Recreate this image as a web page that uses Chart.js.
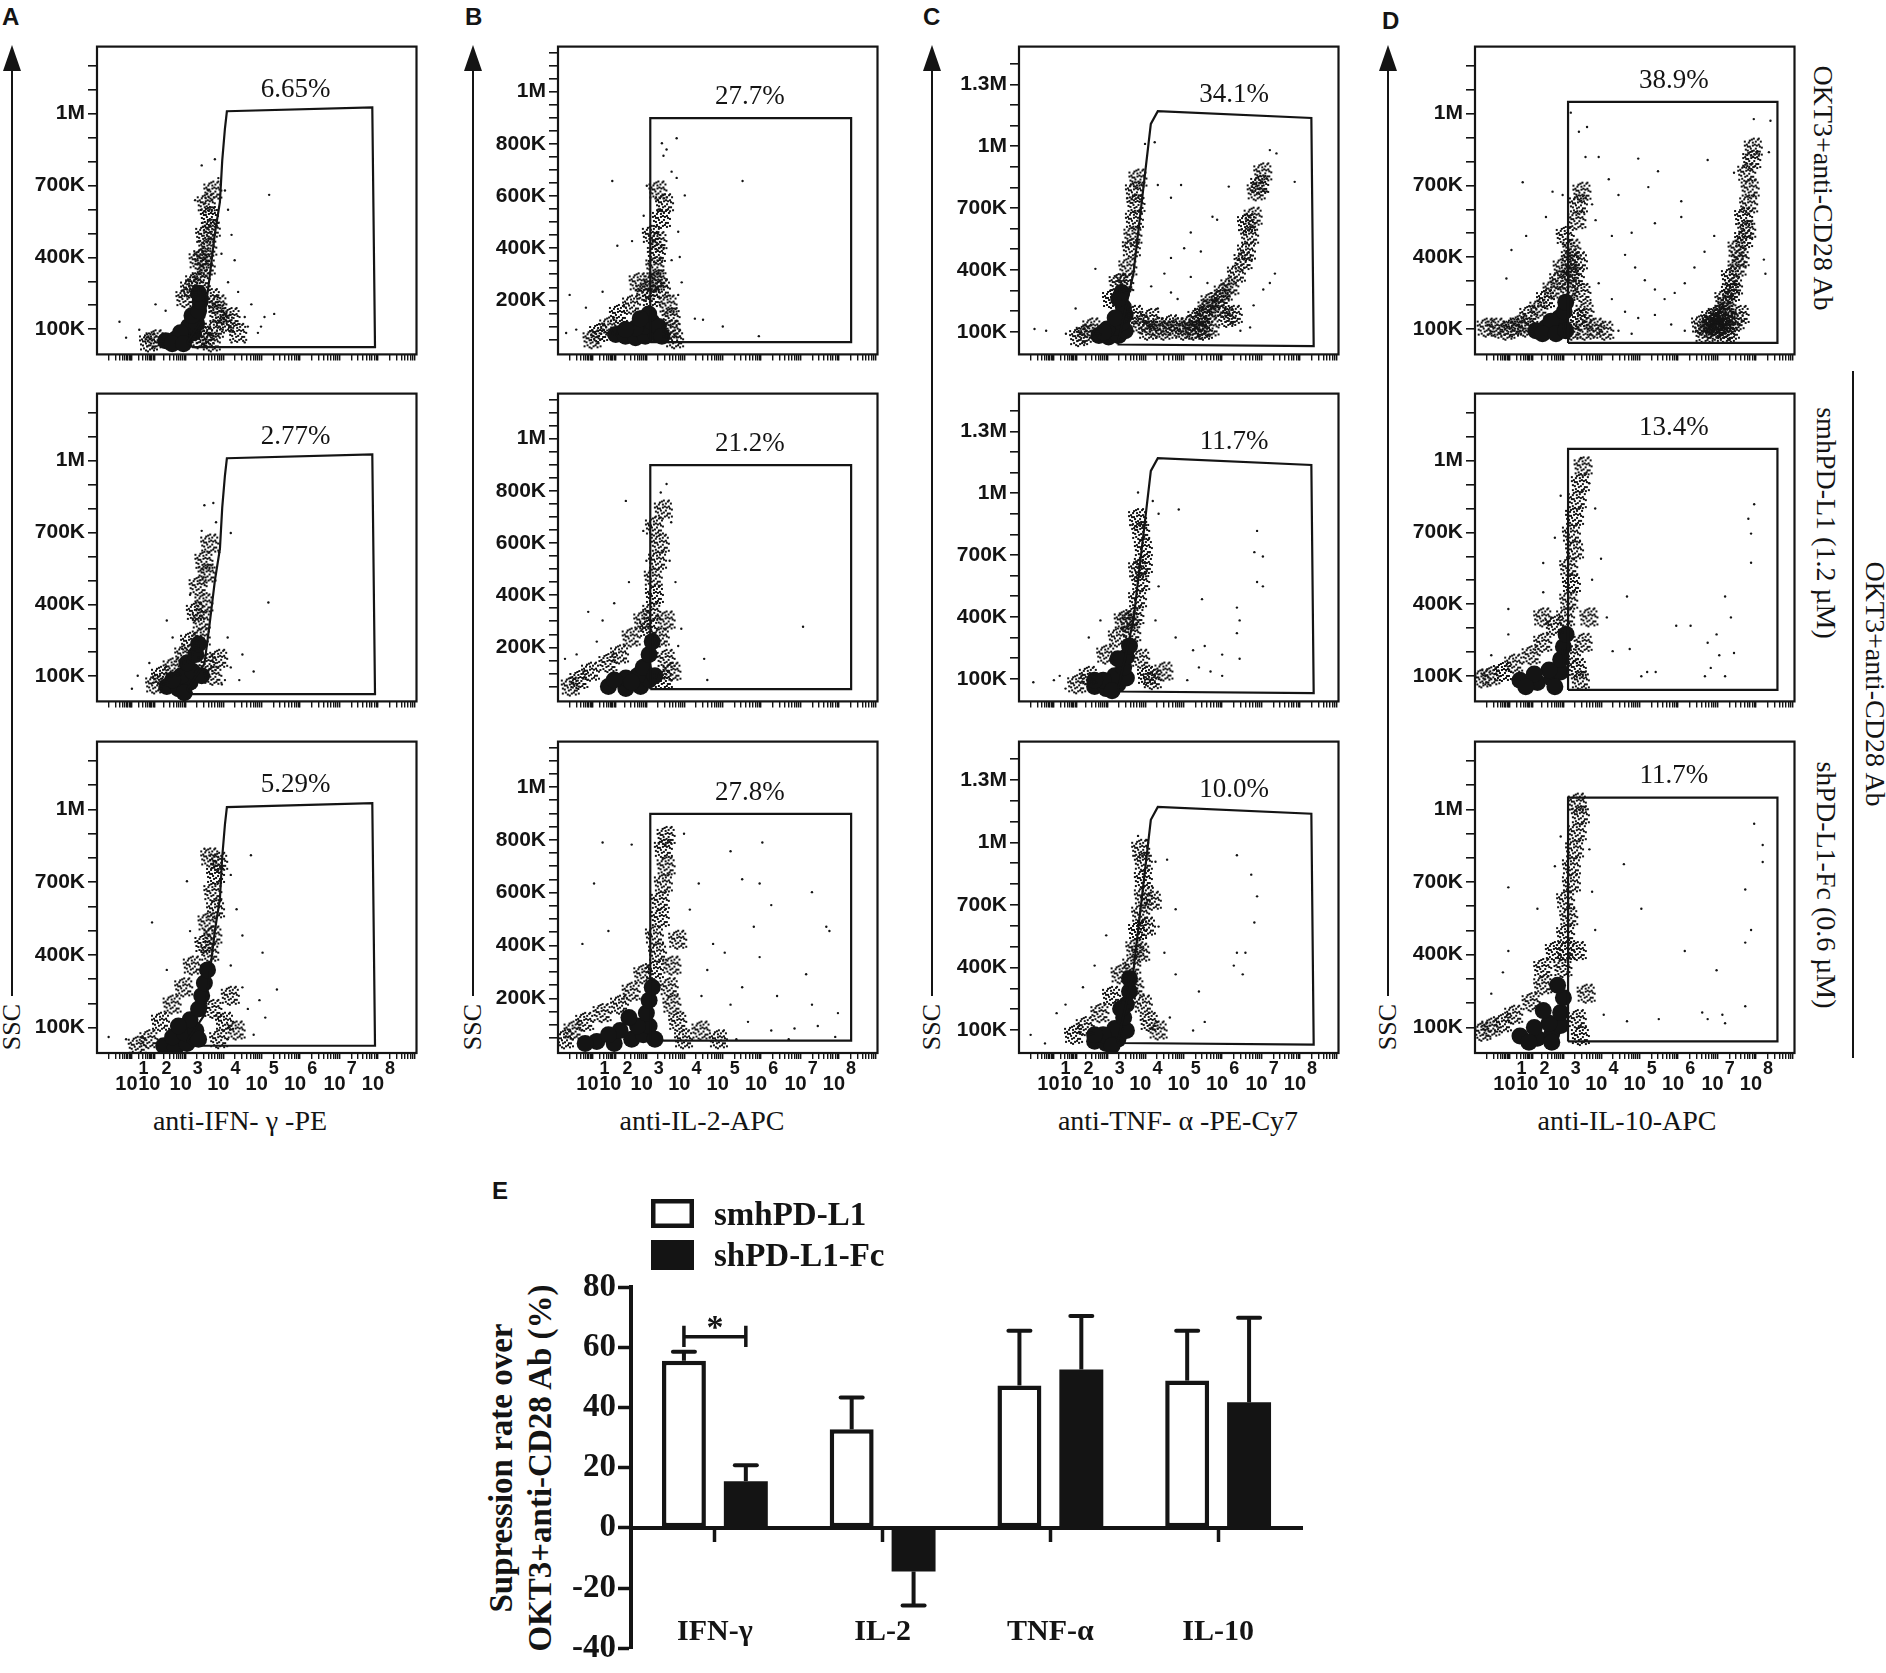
<!DOCTYPE html>
<html>
<head>
<meta charset="utf-8">
<script src="https://cdn.jsdelivr.net/npm/chart.js@4.4.1/dist/chart.umd.min.js"></script>
<style>
  body { margin: 0; background: #fff; width: 1886px; height: 1673px; position: relative; overflow: hidden; color: #141414; }
  canvas { position: absolute; }
  svg { position: absolute; left: 0; top: 0; }
  .t { position: absolute; white-space: nowrap; transform: translate(-50%, -50%); font-family: 'Liberation Serif', serif; line-height: 1; }
  .up { transform: translate(-50%, -50%) rotate(-90deg); }
  .down { transform: translate(-50%, -50%) rotate(90deg); }
  .letter { position: absolute; font: bold 24px 'Liberation Sans', Arial, sans-serif; line-height: 1; }
</style>
</head>
<body>
<div class="letter" style="left:2px;top:5px">A</div>
<div class="letter" style="left:465px;top:5px">B</div>
<div class="letter" style="left:923px;top:5px">C</div>
<div class="letter" style="left:1382px;top:9px">D</div>
<div class="letter" style="left:492px;top:1179px">E</div>

<div class="t" style="left:240px;top:1121px;font-size:28px">anti-IFN- γ -PE</div>
<div class="t" style="left:702px;top:1121px;font-size:28px">anti-IL-2-APC</div>
<div class="t" style="left:1178px;top:1121px;font-size:28px">anti-TNF- α -PE-Cy7</div>
<div class="t" style="left:1627px;top:1121px;font-size:28px">anti-IL-10-APC</div>

<div class="t up" style="left:12px;top:1027px;font-size:26px">SSC</div>
<div class="t up" style="left:473px;top:1027px;font-size:26px">SSC</div>
<div class="t up" style="left:932px;top:1027px;font-size:26px">SSC</div>
<div class="t up" style="left:1388px;top:1027px;font-size:26px">SSC</div>

<div class="t down" style="left:1823px;top:188px;font-size:28px">OKT3+anti-CD28 Ab</div>
<div class="t down" style="left:1826px;top:523px;font-size:28px">smhPD-L1 (1.2 µM)</div>
<div class="t down" style="left:1826px;top:885px;font-size:28px">shPD-L1-Fc (0.6 µM)</div>
<div class="t down" style="left:1875px;top:684px;font-size:28px">OKT3+anti-CD28 Ab</div>

<div class="t up" style="left:501px;top:1468px;font-size:33px;font-weight:bold">Supression rate over</div>
<div class="t up" style="left:540px;top:1468px;font-size:33px;font-weight:bold">OKT3+anti-CD28 Ab (%)</div>

<svg width="1886" height="1673">
  <g stroke="#141414" stroke-width="2" fill="#141414">
    <line x1="12" y1="60" x2="12" y2="996"/><polygon points="12,45 3,71 21,71" stroke="none"/>
    <line x1="473" y1="60" x2="473" y2="996"/><polygon points="473,45 464,71 482,71" stroke="none"/>
    <line x1="932" y1="60" x2="932" y2="996"/><polygon points="932,45 923,71 941,71" stroke="none"/>
    <line x1="1388" y1="60" x2="1388" y2="996"/><polygon points="1388,45 1379,71 1397,71" stroke="none"/>
    <line x1="1853" y1="371" x2="1853" y2="1058"/>
  </g>
</svg>

<script>
// ---------- flow panels: x in display decades, y in K events (SSC) ----------
const xDecades = [1, 2, 3, 4, 5, 6, 7, 8];
const xDecadePos = [0.30, 0.89, 1.48, 2.29, 3.26, 4.25, 5.24, 6.26, 7.25, 8.24];

const yLabelsA = [100, 400, 700, 1000];
const yLabelsB = [200, 400, 600, 800, 1000];
const yLabelsC = [100, 400, 700, 1000, 1300];
const yLabelsD = [100, 400, 700, 1000];

const gateA = [[2.32,45],[2.77,152],[2.89,299],[3.04,499],[3.17,632],[3.23,805],[3.30,939],[3.35,1010],[7.10,1026],[7.17,25],[2.47,25]];
const gateB = [[2.38,40],[2.38,898],[7.56,898],[7.56,40]];
const gateC = [[2.54,38],[2.95,382],[3.40,1108],[3.58,1170],[7.54,1137],[7.60,30]];
const gateD = [[2.40,42],[2.40,1049],[7.80,1049],[7.80,42]];

const pctA = ['6.65%', '2.77%', '5.29%'];
const pctB = ['27.7%', '21.2%', '27.8%'];
const pctC = ['34.1%', '11.7%', '10.0%'];
const pctD = ['38.9%', '13.4%', '11.7%'];

const a1Core = [[1.77,52],[2.02,58],[2.28,65],[2.49,85],[2.36,111],[2.57,124],[2.45,157],[2.62,177],[2.66,217],[2.62,250],[2.15,85],[1.94,39],[2.23,39]];
const a1Dense = [[2.70,309],[2.83,362],[2.74,401],[2.87,441],[2.79,494],[2.96,520],[2.91,573],[2.83,626],[3.00,679],[2.62,388],[2.53,296],[2.96,230],[3.13,164],[3.04,98],[3.30,124],[3.47,151],[3.64,85],[1.51,58],[1.34,45],[2.79,72],[2.96,45],[2.62,58],[3.13,204],[2.28,230],[2.40,270]];
const a1Sparse = [[3.04,810],[3.13,731],[3.30,679],[3.38,599],[4.44,661],[2.79,626],[2.53,639],[3.47,494],[3.55,388],[3.38,296],[3.98,204],[4.32,151],[4.57,164],[4.15,85],[3.89,111],[3.81,45],[0.75,65],[0.58,131],[1.09,98],[1.51,204],[1.77,177],[1.26,58],[2.70,784],[3.21,415],[3.64,256],[3.81,151],[3.47,45],[4.23,111],[2.87,679],[2.62,468]];

const a2Core = [[1.80,57],[2.10,48],[2.40,75],[2.17,102],[2.47,120],[2.32,155],[2.55,191],[2.62,235],[1.95,84],[2.70,102],[2.25,31]];
const a2Dense = [[2.70,333],[2.77,404],[2.62,476],[2.85,529],[2.77,582],[2.92,654],[2.70,262],[2.40,244],[2.25,191],[1.95,137],[1.65,102],[1.50,66],[2.85,155],[3.00,102],[3.15,173],[2.55,369]];
const a2Sparse = [[2.77,814],[3.00,823],[3.07,743],[3.15,618],[3.45,698],[4.42,408],[3.37,262],[3.75,191],[4.04,120],[3.30,84],[1.05,102],[0.90,48],[1.35,155],[1.95,262],[1.80,333],[2.40,440],[3.45,137],[2.70,707],[3.22,66],[3.67,84]];

const a3Core = [[1.72,25],[2.02,16],[2.32,34],[1.95,61],[2.25,79],[2.55,88],[2.40,132],[2.62,177],[2.70,231],[2.77,284],[2.85,338],[2.62,52],[2.10,106]];
const a3Dense = [[2.92,409],[3.00,480],[2.85,534],[3.07,588],[3.00,659],[3.07,730],[2.92,802],[3.15,784],[2.77,445],[2.47,356],[2.25,266],[1.95,195],[1.65,124],[1.35,52],[1.05,25],[3.00,177],[3.30,124],[3.45,231],[3.15,52],[3.60,88]];
const a3Sparse = [[3.97,811],[3.45,730],[3.60,588],[3.75,480],[4.27,409],[4.64,257],[4.34,141],[3.89,177],[4.04,70],[2.32,704],[1.42,534],[1.80,338],[2.40,498],[0.30,61],[0.75,52],[3.45,356],[3.75,266],[2.77,838],[3.37,52],[4.19,213]];

const b1Core = [[1.49,69],[1.74,63],[2.00,57],[2.25,63],[2.51,75],[2.25,100],[2.00,94],[2.42,118],[2.59,100],[2.68,63],[1.74,88],[2.34,148],[2.12,130]];
const b1Dense = [[2.42,209],[2.46,269],[2.51,330],[2.55,378],[2.59,427],[2.42,451],[2.68,512],[2.76,572],[2.59,621],[2.68,245],[2.85,184],[2.93,136],[1.91,184],[1.57,148],[1.32,100],[1.06,75],[0.89,51],[2.93,88],[3.02,51],[2.25,233],[2.08,269],[2.59,281]];
const b1Sparse = [[2.68,802],[2.80,778],[3.06,821],[2.72,754],[2.93,693],[3.06,669],[3.27,602],[3.10,463],[2.59,548],[2.29,639],[2.21,524],[1.91,427],[1.53,409],[1.40,657],[4.76,657],[3.53,130],[3.74,126],[4.25,100],[5.18,63],[0.30,221],[0.21,75],[0.47,88],[0.72,172],[1.15,233],[3.14,366],[3.10,221],[3.19,269],[2.93,354]];

const b2Core = [[1.30,50],[1.75,42],[2.13,50],[2.35,75],[2.05,91],[1.75,83],[2.20,124],[2.35,173],[2.43,222],[1.90,66],[1.45,75],[2.50,91]];
const b2Dense = [[2.35,271],[2.43,336],[2.50,401],[2.47,467],[2.58,532],[2.65,597],[2.50,663],[2.73,728],[2.20,303],[1.90,238],[1.60,173],[1.30,140],[0.85,107],[0.55,75],[0.33,50],[2.80,156],[2.95,107],[2.73,75],[2.65,238],[2.80,303]];
const b2Sparse = [[2.80,826],[2.65,793],[2.92,679],[2.20,646],[2.28,532],[1.83,450],[1.45,369],[1.15,303],[0.78,336],[1.75,761],[3.18,271],[3.77,156],[3.85,75],[6.32,279],[0.18,156],[0.48,173],[1.00,222],[3.03,450],[2.88,532],[3.10,205]];

const b3Core = [[1.00,37],[1.45,29],[1.90,45],[2.20,62],[2.35,95],[2.05,95],[1.60,78],[2.28,144],[2.35,193],[2.43,242],[1.30,62],[2.50,45],[0.70,29],[1.83,127]];
const b3Dense = [[2.50,307],[2.58,373],[2.50,438],[2.65,504],[2.65,569],[2.73,635],[2.80,700],[2.73,766],[2.80,815],[2.20,291],[1.90,225],[1.60,176],[1.15,144],[0.70,111],[0.40,78],[0.18,45],[2.95,176],[3.10,111],[3.25,45],[2.88,242],[2.95,324],[3.10,422],[3.70,78],[4.15,45]];
const b3Sparse = [[1.15,790],[1.90,782],[3.25,823],[5.27,790],[0.93,635],[0.63,406],[1.30,455],[4.45,757],[4.75,651],[5.20,635],[6.55,602],[6.92,471],[7.00,455],[5.50,553],[5.05,471],[4.30,373],[3.85,307],[4.75,242],[5.65,209],[6.55,176],[7.22,144],[6.70,95],[6.10,86],[5.50,78],[4.90,111],[4.45,176],[5.20,356],[3.70,209],[6.40,291],[7.15,54],[5.95,45],[4.60,45],[3.40,536],[3.63,635],[4.00,406]];

const c1Core = [[2.06,82],[2.31,74],[2.57,82],[2.74,105],[2.48,121],[2.27,113],[2.65,144],[2.74,182],[2.69,220],[2.48,167],[2.57,259],[2.65,290],[2.18,98]];
const c1Dense = [[2.74,336],[2.82,412],[2.91,505],[2.95,566],[2.99,643],[3.03,720],[2.99,781],[3.08,843],[2.57,336],[2.40,259],[1.89,121],[1.72,90],[1.55,74],[2.99,182],[3.16,136],[3.33,105],[3.41,167],[3.58,121],[3.75,105],[3.92,136],[4.09,121],[4.26,105],[4.43,136],[4.60,167],[4.77,182],[4.86,213],[4.94,243],[5.11,213],[5.20,259],[5.28,290],[5.37,167],[5.54,182],[5.45,320],[5.62,382],[5.79,443],[5.88,489],[5.96,566],[5.88,627],[6.05,658],[6.13,781],[6.30,873],[6.22,812],[4.69,121],[4.94,121],[4.52,105],[4.77,105]];
const c1Sparse = [[3.25,1011],[3.50,1019],[3.58,812],[3.92,750],[4.18,812],[4.99,658],[5.11,643],[4.43,581],[4.26,505],[3.92,458],[3.41,320],[3.75,382],[3.92,290],[4.09,259],[3.58,213],[1.46,213],[1.97,405],[1.21,90],[0.70,105],[0.40,113],[2.91,305],[6.47,981],[6.64,965],[7.11,827],[5.41,804],[6.39,781],[6.60,382],[6.47,336],[5.96,121],[5.71,105],[6.05,228],[6.30,305],[4.69,489],[4.86,336],[4.43,366]];

const c2Core = [[1.95,62],[2.25,52],[2.55,73],[2.77,104],[2.47,114],[2.17,93],[2.70,155],[2.77,207],[2.85,259],[2.55,197],[2.40,42],[1.95,93]];
const c2Dense = [[2.92,321],[3.00,404],[3.07,486],[3.15,569],[3.22,652],[3.22,734],[3.15,817],[3.07,879],[2.55,300],[2.25,217],[1.80,114],[1.50,73],[3.15,197],[3.30,114],[3.45,93],[3.75,135],[2.85,383],[3.07,631],[2.70,383]];
const c2Sparse = [[3.07,1003],[3.45,962],[3.60,900],[4.12,921],[3.37,714],[3.60,548],[3.52,383],[4.04,300],[4.49,238],[4.79,259],[4.94,135],[5.24,114],[4.64,155],[5.62,321],[5.69,383],[5.62,445],[6.14,569],[6.29,548],[6.07,714],[6.14,817],[6.29,693],[4.72,486],[5.69,197],[5.24,217],[4.34,93],[1.05,114],[0.37,83],[1.20,52],[0.90,93],[1.80,300],[2.10,383]];

const c3Core = [[1.95,46],[2.25,36],[2.55,56],[2.77,98],[2.47,108],[2.17,77],[2.70,160],[2.77,222],[2.85,285],[2.62,202],[2.40,25],[1.95,77],[2.85,347]];
const c3Dense = [[2.92,409],[3.00,492],[3.07,575],[3.15,658],[3.22,741],[3.22,824],[3.22,907],[3.15,969],[2.62,367],[2.40,264],[2.10,181],[1.72,119],[1.42,77],[3.22,222],[3.37,139],[3.60,98],[3.00,305],[3.15,471],[3.30,596],[3.45,720]];
const c3Sparse = [[3.07,1031],[3.30,1010],[3.52,907],[3.82,917],[3.45,782],[3.60,596],[3.75,471],[4.04,367],[4.64,285],[3.89,160],[4.49,98],[4.79,139],[5.62,938],[5.99,845],[6.14,741],[5.62,471],[5.84,471],[5.54,409],[5.77,367],[6.07,616],[0.97,181],[0.30,77],[0.67,36],[1.20,222],[1.65,305],[1.95,409],[2.25,554],[4.04,679]];

const d1Core = [[1.57,93],[1.83,106],[2.09,113],[2.26,106],[2.17,146],[1.96,133],[2.30,172],[2.34,212],[1.74,80],[2.09,80],[2.34,93]];
const d1Dense = [[2.43,265],[2.47,331],[2.47,396],[2.51,436],[2.68,383],[2.60,317],[2.77,251],[2.85,172],[2.68,146],[2.51,93],[2.85,93],[3.11,106],[3.36,93],[1.32,106],[1.15,119],[0.98,106],[0.81,93],[0.55,106],[0.30,106],[1.40,159],[1.66,185],[1.83,225],[2.00,265],[2.17,304],[2.26,357],[2.34,489],[2.64,555],[2.68,621],[2.77,674],[5.83,119],[6.00,106],[6.17,113],[6.34,133],[6.26,159],[6.43,172],[6.51,199],[6.43,225],[6.60,251],[6.68,278],[6.60,317],[6.77,357],[6.85,396],[6.77,436],[6.94,476],[7.02,515],[6.94,568],[7.07,621],[7.11,687],[7.02,753],[7.15,806],[7.19,858],[6.09,146],[6.21,93],[6.60,93],[6.72,133],[6.85,159],[5.92,80],[6.47,80],[6.10,120],[6.30,100],[6.50,120],[6.40,150],[6.20,130]];
const d1Sparse = [[2.47,1004],[2.68,924],[2.89,944],[2.85,819],[3.19,819],[3.45,726],[3.70,660],[4.21,812],[4.72,759],[4.47,693],[5.32,634],[6.00,806],[6.68,753],[7.19,977],[7.62,970],[7.58,839],[7.45,390],[7.49,331],[3.02,621],[3.11,555],[3.53,489],[3.87,410],[4.13,357],[4.38,304],[4.64,265],[4.89,225],[5.15,251],[5.41,291],[5.66,357],[5.92,423],[6.17,489],[4.64,159],[4.21,146],[3.87,172],[3.53,225],[3.19,291],[5.06,119],[5.41,93],[3.70,93],[4.04,80],[1.23,713],[0.94,430],[0.81,311],[1.32,489],[1.83,568],[2.00,674],[2.26,660],[5.32,568],[4.64,542],[4.04,502]];

const d2Core = [[1.16,82],[1.61,73],[1.98,90],[2.21,117],[1.91,125],[1.53,108],[2.21,169],[2.28,222],[2.35,274],[1.31,55],[2.06,55]];
const d2Dense = [[2.35,345],[2.43,415],[2.50,485],[2.43,555],[2.58,625],[2.50,695],[2.58,765],[2.65,835],[2.73,906],[2.80,976],[2.06,310],[1.76,239],[1.46,187],[1.01,152],[0.72,117],[0.42,99],[0.19,90],[2.65,134],[2.73,82],[1.76,345],[2.50,187],[2.80,239],[2.95,345]];
const d2Sparse = [[2.73,1011],[2.95,905],[3.10,800],[3.25,590],[3.02,502],[2.21,853],[2.06,678],[1.76,572],[0.86,380],[1.76,450],[3.92,432],[3.40,345],[3.55,204],[3.99,213],[4.44,117],[5.19,310],[5.56,310],[6.45,432],[6.60,345],[6.23,274],[6.00,239],[6.30,187],[6.08,134],[6.45,99],[5.93,99],[7.12,573],[7.20,818],[7.05,757],[7.12,695],[6.68,196],[4.29,99],[4.66,117],[0.42,187],[0.86,274]];

const d3Core = [[1.16,64],[1.61,55],[1.98,73],[2.21,108],[1.91,117],[1.53,99],[2.21,161],[2.28,222],[2.13,274],[1.39,38],[1.98,38],[1.76,169]];
const d3Dense = [[2.28,345],[2.35,415],[2.35,485],[2.43,555],[2.35,625],[2.50,695],[2.50,765],[2.58,835],[2.65,906],[2.73,976],[2.65,1028],[1.76,274],[1.46,204],[1.01,152],[0.72,117],[0.42,99],[0.19,82],[2.65,134],[2.73,64],[1.76,345],[2.06,415],[2.88,239],[2.65,415]];
const d3Sparse = [[2.80,1046],[2.95,835],[3.02,660],[3.10,502],[2.21,888],[2.06,765],[1.61,590],[0.86,415],[0.72,327],[3.84,774],[4.29,590],[3.32,152],[3.92,125],[4.74,134],[5.86,161],[6.00,134],[6.38,152],[6.45,117],[6.97,187],[7.12,502],[6.97,450],[7.42,853],[7.42,783],[7.20,941],[6.97,669],[6.23,336],[5.41,415],[0.42,239],[0.86,678]];

// ---------- bar chart E ----------
const cytokines = ['IFN-γ', 'IL-2', 'TNF-α', 'IL-10'];
const seriesNames = ['smhPD-L1', 'shPD-L1-Fc'];
const smhMean = [55.5, 32.7, 47.3, 48.9];
const smhSem = [3.0, 10.6, 18.2, 16.6];
const shMean = [15.5, -14.5, 52.6, 41.7];
const shSem = [5.3, 11.3, 17.8, 28.1];

// ---------- layout / style ----------
const ink = '#141414';
const boxLeft = [97, 558, 1019, 1475];
const rowTop = [35, 382, 730];
const BOX_W = 324, BOX_H = 323, Y_AXIS_W = 80;

// offsets (px) of the specks in one "dense" marker
const speckOffsets = [[-7,-3],[-4,-7],[-1,-2],[2,-6],[5,-3],[-6,3],[-2,4],[2,1],[6,4],[1,7],[-4,-1],[4,-8],[-8,7],[8,0],[0,-9],[-3,8],[5,8],[-9,-6],[3,-2],[-1,-5],[-5,6],[7,-6],
  [-3,1],[0,3],[4,4],[-6,-1],[3,6],[-2,-8],[6,-1],[-8,2],[1,-3],[-5,-5],[8,7],[-1,9],[5,-9],[-9,-2]];

function speckMarker(size) {
  const c = document.createElement('canvas');
  c.width = c.height = size;
  const g = c.getContext('2d');
  g.fillStyle = ink;
  speckOffsets.forEach(([dx, dy]) => g.fillRect(size / 2 + dx - 1, size / 2 + dy - 1, 2, 2));
  return c;
}
const speck = speckMarker(22);

function range(a, b, s) {
  const out = [];
  for (let v = a; v <= b + 1e-9; v += s) out.push(Math.round(v * 100) / 100);
  return out;
}

// tick marks between the decade positions
const xMarks = [];
for (let n = 0; n < xDecadePos.length - 1; n++) {
  for (let k = 1; k <= 9; k++) {
    xMarks.push(xDecadePos[n] + Math.log10(k) * (xDecadePos[n + 1] - xDecadePos[n]));
  }
}

const columns = [
  { gate: gateA, yMin: -5, yMax: 1280, marks: range(100, 1200, 100), labels: yLabelsA, pct: pctA, pctAt: [5.12, 1100],
    clouds: [[a1Core, a1Dense, a1Sparse], [a2Core, a2Dense, a2Sparse], [a3Core, a3Dense, a3Sparse]] },
  { gate: gateB, yMin: -7, yMax: 1172, marks: range(50, 1150, 50), labels: yLabelsB, pct: pctB, pctAt: [4.95, 978],
    clouds: [[b1Core, b1Dense, b1Sparse], [b2Core, b2Dense, b2Sparse], [b3Core, b3Dense, b3Sparse]] },
  { gate: gateC, yMin: -10, yMax: 1483, marks: range(100, 1400, 100), labels: yLabelsC, pct: pctC, pctAt: [5.55, 1250],
    clouds: [[c1Core, c1Dense, c1Sparse], [c2Core, c2Dense, c2Sparse], [c3Core, c3Dense, c3Sparse]] },
  { gate: gateD, yMin: -6, yMax: 1280, marks: range(100, 1200, 100), labels: yLabelsD, pct: pctD, pctAt: [5.13, 1138],
    clouds: [[d1Core, d1Dense, d1Sparse], [d2Core, d2Dense, d2Sparse], [d3Core, d3Dense, d3Sparse]] }
];

function makeCanvas(left, top, w, h) {
  const c = document.createElement('canvas');
  c.width = w; c.height = h;
  c.style.left = left + 'px'; c.style.top = top + 'px';
  c.style.width = w + 'px'; c.style.height = h + 'px';
  document.body.appendChild(c);
  return c;
}

const toXY = pts => pts.map(p => ({ x: p[0], y: p[1] }));
const kLabel = v => v >= 1000 ? (v / 1000) + 'M' : v + 'K';

// plot frame
const frame = {
  id: 'frame',
  afterDraw(chart) {
    const { ctx, chartArea: a } = chart;
    ctx.save();
    ctx.strokeStyle = ink;
    ctx.lineWidth = 2.2;
    ctx.strokeRect(a.left, a.top, a.right - a.left, a.bottom - a.top);
    ctx.restore();
  }
};

// gate percentage
const pctLabel = {
  id: 'pctLabel',
  afterDraw(chart, args, opts) {
    const { ctx, scales } = chart;
    ctx.save();
    ctx.fillStyle = ink;
    ctx.font = '27px "Liberation Serif"';
    ctx.textAlign = 'center';
    ctx.textBaseline = 'middle';
    ctx.fillText(opts.text, scales.x.getPixelForValue(opts.at[0]), scales.y.getPixelForValue(opts.at[1]));
    ctx.restore();
  }
};

// 10^n labels under the bottom row
const decadeLabels = {
  id: 'decadeLabels',
  afterDraw(chart, args, opts) {
    if (!opts.show) return;
    const { ctx, scales, chartArea } = chart;
    const base = chartArea.bottom;
    ctx.save();
    ctx.fillStyle = ink;
    ctx.textBaseline = 'top';
    xDecades.forEach(e => {
      const px = scales.x.getPixelForValue(xDecadePos[e]);
      ctx.font = 'bold 20px "Liberation Sans"';
      ctx.textAlign = 'right';
      ctx.fillText('10', px + 6, base + 21);
      ctx.font = 'bold 18px "Liberation Sans"';
      ctx.textAlign = 'left';
      ctx.fillText(String(e), px + 7, base + 7);
    });
    ctx.restore();
  }
};

function dots(pts, r, style) {
  return { data: toXY(pts), pointRadius: r, pointStyle: style || 'circle', pointBackgroundColor: ink,
           pointBorderWidth: 0, showLine: false, clip: 0 };
}

function flowPanel(ci, ri) {
  const col = columns[ci];
  const [core, dense, sparse] = col.clouds[ri];
  const xh = ri === 2 ? 50 : 12;
  const cv = makeCanvas(boxLeft[ci] - Y_AXIS_W, rowTop[ri] - 4, Y_AXIS_W + BOX_W + 4, BOX_H + 4 + xh);
  new Chart(cv, {
    type: 'scatter',
    data: {
      datasets: [
        { data: toXY(col.gate.concat([col.gate[0]])), showLine: true, borderColor: ink, borderWidth: 2.2,
          pointRadius: 0, fill: false, tension: 0, clip: 0 },
        dots(sparse, 1.2),
        dots(dense, 3, speck),
        dots(core, 8.5)
      ]
    },
    options: {
      animation: false, responsive: false, events: [],
      layout: { padding: { top: 4, right: 4, left: 0, bottom: 0 } },
      plugins: {
        legend: { display: false }, tooltip: { enabled: false },
        pctLabel: { text: col.pct[ri], at: col.pctAt },
        decadeLabels: { show: ri === 2 }
      },
      scales: {
        x: {
          type: 'linear', min: 0, max: 8.24,
          afterBuildTicks: s => { s.ticks = xMarks.map(v => ({ value: v })); },
          afterFit: s => { s.height = xh; },
          grid: { drawOnChartArea: false, tickLength: 6, color: ink, lineWidth: 1.4 },
          border: { display: false },
          ticks: { display: false }
        },
        y: {
          type: 'linear', min: col.yMin, max: col.yMax,
          afterBuildTicks: s => { s.ticks = col.marks.map(v => ({ value: v })); },
          afterFit: s => { s.width = Y_AXIS_W; },
          grid: { drawOnChartArea: false, tickLength: 9, color: ink, lineWidth: 1.6 },
          border: { display: false },
          ticks: {
            autoSkip: false, padding: 3, color: ink,
            font: { family: 'Liberation Sans', weight: 'bold', size: 21 },
            callback: v => col.labels.includes(v) ? kLabel(v) : ''
          }
        }
      }
    },
    plugins: [frame, pctLabel, decadeLabels]
  });
}

for (let ci = 0; ci < 4; ci++) for (let ri = 0; ri < 3; ri++) flowPanel(ci, ri);

// ---------- bar chart plugins ----------
const errorBars = {
  id: 'errorBars',
  afterDatasetsDraw(chart) {
    const { ctx, scales: { y } } = chart;
    chart.data.datasets.forEach((ds, i) => {
      chart.getDatasetMeta(i).data.forEach((bar, j) => {
        const v = ds.data[j];
        const yEnd = y.getPixelForValue(v + Math.sign(v) * ds.err[j]);
        ctx.save();
        ctx.strokeStyle = ink;
        ctx.lineWidth = 4;
        ctx.beginPath(); ctx.moveTo(bar.x, bar.y); ctx.lineTo(bar.x, yEnd); ctx.stroke();
        ctx.lineCap = 'round';
        ctx.beginPath(); ctx.moveTo(bar.x - 11, yEnd); ctx.lineTo(bar.x + 11, yEnd); ctx.stroke();
        ctx.restore();
      });
    });
  }
};

const sigBracket = {
  id: 'sigBracket',
  afterDatasetsDraw(chart, args, opts) {
    const { ctx, scales: { y } } = chart;
    const a = chart.getDatasetMeta(0).data[opts.index];
    const b = chart.getDatasetMeta(1).data[opts.index];
    const yl = y.getPixelForValue(opts.level);
    const yt = y.getPixelForValue(opts.level + 3.6);
    const yb = y.getPixelForValue(opts.level - 3.4);
    ctx.save();
    ctx.strokeStyle = ink; ctx.fillStyle = ink;
    ctx.lineWidth = 3.5;
    ctx.beginPath();
    ctx.moveTo(a.x, yt); ctx.lineTo(a.x, yb);
    ctx.moveTo(b.x, yt); ctx.lineTo(b.x, yb);
    ctx.moveTo(a.x, yl); ctx.lineTo(b.x, yl);
    ctx.stroke();
    ctx.font = 'bold 34px "Liberation Serif"';
    ctx.textAlign = 'center';
    ctx.textBaseline = 'alphabetic';
    ctx.fillText(opts.mark, (a.x + b.x) / 2, yl + 1);
    ctx.restore();
  }
};

const barLegend = {
  id: 'barLegend',
  afterDraw(chart) {
    const { ctx } = chart;
    chart.data.datasets.forEach((ds, i) => {
      const x = 101, yTop = 29 + i * 41;   // canvas coords
      ctx.save();
      if (i === 0) {
        ctx.strokeStyle = ink; ctx.lineWidth = 4.5;
        ctx.strokeRect(x + 2.25, yTop + 2.25, 43 - 4.5, 29 - 4.5);
      } else {
        ctx.fillStyle = ink;
        ctx.fillRect(x, yTop, 43, 30);
      }
      ctx.fillStyle = ink;
      ctx.font = 'bold 33px "Liberation Serif"';
      ctx.textAlign = 'left';
      ctx.textBaseline = 'alphabetic';
      ctx.fillText(ds.label, x + 63, yTop + 26);
      ctx.restore();
    });
  }
};

const barCanvas = makeCanvas(550, 1170, 770, 500);
new Chart(barCanvas, {
  type: 'bar',
  data: {
    labels: cytokines,
    datasets: [
      { label: seriesNames[0], data: smhMean, err: smhSem, backgroundColor: '#fff', borderColor: ink, borderWidth: 4.5, borderSkipped: false },
      { label: seriesNames[1], data: shMean, err: shSem, backgroundColor: ink, borderColor: ink, borderWidth: 0 }
    ]
  },
  options: {
    animation: false, responsive: false, events: [],
    categoryPercentage: 0.738, barPercentage: 0.71,
    layout: { padding: { top: 117, right: 18, left: 0, bottom: 20 } },
    plugins: {
      legend: { display: false }, tooltip: { enabled: false },
      sigBracket: { index: 0, level: 63.5, mark: '*' }
    },
    scales: {
      x: {
        position: { y: 0 },
        afterFit: s => { s.height = 0; s.paddingLeft = 0; s.paddingRight = 0; },
        grid: { drawOnChartArea: false, offset: false, tickLength: 12, tickWidth: 3.5, tickColor: ink },
        border: { display: true, width: 4, color: ink },
        ticks: { padding: 74, color: ink, font: { family: 'Liberation Serif', weight: 'bold', size: 30 } }
      },
      y: {
        min: -40, max: 80,
        afterFit: s => { s.width = 81; },
        grid: { drawOnChartArea: false, tickLength: 13, tickWidth: 3.5, tickColor: ink },
        border: { display: true, width: 4, color: ink },
        ticks: { stepSize: 20, padding: 2, color: ink, font: { family: 'Liberation Serif', weight: 'bold', size: 33 } }
      }
    }
  },
  plugins: [errorBars, sigBracket, barLegend]
});
</script>
</body>
</html>
